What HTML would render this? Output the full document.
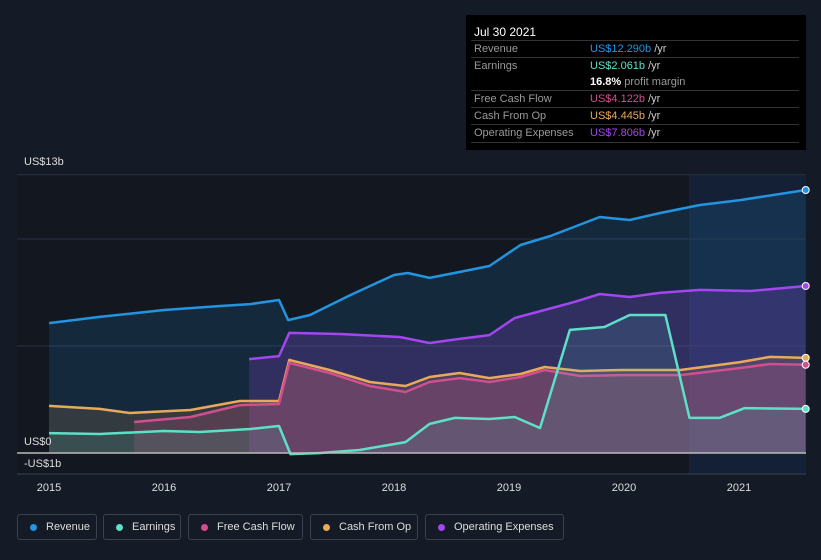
<!DOCTYPE html>
<html><head><meta charset="utf-8"><style>
body{margin:0;width:821px;height:560px;background:#151b26;font-family:"Liberation Sans",sans-serif;overflow:hidden;position:relative}
#tip{position:absolute;left:466px;top:15px;width:340px;height:135px;background:#000;color:#ccc;font-size:11px}
#tip .d{position:absolute;left:8px;top:10px;color:#fff;font-size:12px}
.row{position:absolute;left:5px;width:328px;height:17px;border-top:1px solid #333}
.row span{position:absolute;top:2px}
.l{left:3px;color:#999}.v{left:119px}
.leg{position:absolute;top:514px;height:26px;border:1px solid #3a4250;border-radius:3px;color:#ddd;font-size:11px;box-sizing:border-box;line-height:24px;padding-left:28px}
.leg i{position:absolute;left:12px;top:9px;width:7px;height:7px;border-radius:50%}
</style></head><body>
<svg id="chart" width="821" height="560" style="position:absolute;left:0;top:0"></svg>
<div id="tip">
<div class="d">Jul 30 2021</div>
<div class="row" style="top:25px"><span class="l">Revenue</span><span class="v"><b style="color:#2394e0;font-weight:normal">US$12.290b</b> /yr</span></div>
<div class="row" style="top:42px"><span class="l">Earnings</span><span class="v"><b style="color:#5ee0c8;font-weight:normal">US$2.061b</b> /yr</span></div>
<div class="row" style="top:59px;border-top:none"><span class="v"><b style="color:#fff">16.8%</b> <span style="position:static;color:#999">profit margin</span></span></div>
<div class="row" style="top:75px"><span class="l">Free Cash Flow</span><span class="v"><b style="color:#d14f8e;font-weight:normal">US$4.122b</b> /yr</span></div>
<div class="row" style="top:92px"><span class="l">Cash From Op</span><span class="v"><b style="color:#e8a95a;font-weight:normal">US$4.445b</b> /yr</span></div>
<div class="row" style="top:109px;border-bottom:1px solid #333"><span class="l">Operating Expenses</span><span class="v"><b style="color:#a346f0;font-weight:normal">US$7.806b</b> /yr</span></div>
</div>
<div class="leg" style="left:17px;width:80px"><i style="background:#2394e0"></i>Revenue</div>
<div class="leg" style="left:103px;width:78px"><i style="background:#5ee0c8"></i>Earnings</div>
<div class="leg" style="left:188px;width:115px"><i style="background:#d14f8e"></i>Free Cash Flow</div>
<div class="leg" style="left:310px;width:108px"><i style="background:#e8a95a"></i>Cash From Op</div>
<div class="leg" style="left:425px;width:139px"><i style="background:#a346f0"></i>Operating Expenses</div>
<script>
const revX=[2015,2015.44,2016,2016.49,2016.75,2017,2017.08,2017.27,2017.62,2018,2018.12,2018.31,2018.57,2018.83,2019.1,2019.36,2019.79,2020.05,2020.31,2020.66,2021.01,2021.58];
const revY=[6.07,6.36,6.68,6.87,6.96,7.15,6.21,6.45,7.38,8.32,8.41,8.18,8.46,8.74,9.72,10.14,11.03,10.89,11.21,11.59,11.82,12.29];
const earnX=[2015,2015.44,2016,2016.31,2016.75,2017,2017.1,2017.36,2017.7,2018.1,2018.31,2018.53,2018.83,2019.05,2019.27,2019.53,2019.83,2020.05,2020.36,2020.57,2020.83,2021.05,2021.58];
const earnY=[0.93,0.89,1.03,0.98,1.12,1.26,-0.05,0,0.14,0.51,1.36,1.64,1.59,1.68,1.17,5.75,5.89,6.45,6.45,1.64,1.64,2.1,2.061];
const fcfX=[2015.74,2016.23,2016.66,2017,2017.09,2017.44,2017.79,2018.1,2018.31,2018.57,2018.83,2019.1,2019.31,2019.62,2019.97,2020.49,2021.01,2021.27,2021.58];
const fcfY=[1.45,1.68,2.24,2.29,4.21,3.74,3.13,2.85,3.32,3.5,3.32,3.55,3.88,3.6,3.64,3.64,3.97,4.16,4.122];
const cfoX=[2015,2015.44,2015.7,2016.23,2016.66,2017,2017.09,2017.44,2017.79,2018.1,2018.31,2018.57,2018.83,2019.1,2019.31,2019.62,2019.97,2020.49,2021.01,2021.27,2021.58];
const cfoY=[2.2,2.06,1.87,2.01,2.43,2.43,4.35,3.88,3.32,3.13,3.55,3.74,3.5,3.69,4.02,3.83,3.88,3.88,4.25,4.49,4.445];
const opxX=[2016.74,2017,2017.09,2017.53,2018.05,2018.31,2018.57,2018.83,2019.05,2019.31,2019.57,2019.79,2020.05,2020.31,2020.66,2021.1,2021.58];
const opxY=[4.39,4.53,5.61,5.56,5.42,5.14,5.33,5.51,6.31,6.68,7.06,7.43,7.29,7.48,7.62,7.57,7.806];
const yTicks=[13,0,-1];const yLabels=["US$13b","US$0","-US$1b"];
const xTicks=[2015,2016,2017,2018,2019,2020,2021];
const NS="http://www.w3.org/2000/svg";const svg=document.getElementById('chart');
const X=t=>49+(t-2015)*115;const Y=v=>453-v*21.4;
function el(tag,a,p){const e=document.createElementNS(NS,tag);for(const k in a)e.setAttribute(k,a[k]);(p||svg).appendChild(e);return e;}
const bg=el('rect',{x:17,y:175,width:672,height:299,fill:'#121720'});


const hl=el('rect',{x:689,y:175,width:117,height:299,fill:'#142036'});


[13,10,5].forEach(v=>{const g=el('line',{x1:17,x2:806,y1:Y(v),y2:Y(v),stroke:'#2a3140','stroke-width':1});

});
function series(xs,ys,col,fillOp,name){
 let d='';xs.forEach((t,i)=>{d+=(i?'L':'M')+X(t).toFixed(1)+','+Y(ys[i]).toFixed(1);});
 const a=el('path',{d:d+'L'+X(xs[xs.length-1])+','+Y(0)+'L'+X(xs[0])+','+Y(0)+'Z',fill:col,'fill-opacity':fillOp});
 
 
 const l=el('path',{d:d,fill:'none',stroke:col,'stroke-width':2.5,'stroke-linejoin':'round'});
 
 
 const c=el('circle',{cx:X(xs[xs.length-1]),cy:Y(ys[ys.length-1]),r:3.5,fill:col,stroke:'#fff','stroke-width':1});
 
 
}
series(revX,revY,'#2394e0',0.15,'revenue');
series(opxX,opxY,'#a346f0',0.2,'operating-expenses');
series(cfoX,cfoY,'#e8a95a',0.15,'cash-from-op');
series(fcfX,fcfY,'#d14f8e',0.2,'free-cash-flow');
series(earnX,earnY,'#5ee0c8',0.12,'earnings');
const z=el('line',{x1:17,x2:806,y1:Y(0),y2:Y(0),stroke:'#bbb','stroke-width':1.5});


const ax=el('line',{x1:17,x2:806,y1:474,y2:474,stroke:'#3a4250','stroke-width':1});


const yLabPos=[165,445,467];
yTicks.forEach((v,i)=>{const t=el('text',{x:24,y:yLabPos[i],fill:'#ddd','font-size':11,'font-family':'Liberation Sans'});t.textContent=yLabels[i];

});
xTicks.forEach(v=>{const t=el('text',{x:X(v),y:491,fill:'#ddd','font-size':11,'text-anchor':'middle','font-family':'Liberation Sans'});t.textContent=v;

});
</script>
</body></html>
